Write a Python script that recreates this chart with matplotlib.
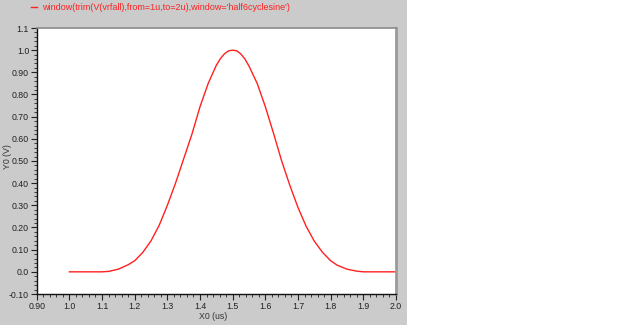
import matplotlib
matplotlib.use("Agg")
import matplotlib.pyplot as plt
from matplotlib.patches import Rectangle
from matplotlib.lines import Line2D
from matplotlib.ticker import MultipleLocator

# values
x_us = [1.00, 1.05, 1.10, 1.12, 1.15, 1.18, 1.20, 1.225, 1.25, 1.275, 1.30,
        1.325, 1.35, 1.375, 1.40, 1.425, 1.45, 1.4625, 1.475, 1.4875, 1.50,
        1.5125, 1.525, 1.5375, 1.55, 1.575, 1.60, 1.625, 1.65, 1.675, 1.70,
        1.725, 1.75, 1.775, 1.80, 1.82, 1.85, 1.88, 1.90, 1.95, 2.00]
y_v = [0.0, 0.0, 0.0, 0.002, 0.012, 0.032, 0.050, 0.088, 0.140, 0.210, 0.300,
       0.400, 0.510, 0.620, 0.745, 0.850, 0.932, 0.962, 0.984, 0.997, 1.0,
       0.997, 0.983, 0.960, 0.928, 0.850, 0.745, 0.625, 0.500, 0.390, 0.290,
       0.205, 0.138, 0.088, 0.050, 0.030, 0.012, 0.003, 0.0, 0.0, 0.0]

x_ticks = [0.9, 1.0, 1.1, 1.2, 1.3, 1.4, 1.5, 1.6, 1.7, 1.8, 1.9, 2.0]
x_labels = ["0.90", "1.0", "1.1", "1.2", "1.3", "1.4", "1.5", "1.6", "1.7", "1.8", "1.9", "2.0"]
y_ticks = [-0.1, 0.0, 0.1, 0.2, 0.3, 0.4, 0.5, 0.6, 0.7, 0.8, 0.9, 1.0, 1.1]
y_labels = ["-0.10", "0.0", "0.10", "0.20", "0.30", "0.40", "0.50", "0.60",
            "0.70", "0.80", "0.90", "1.0", "1.1"]
legend_text = "window(trim(V(vrfall),from=1u,to=2u),window='half6cyclesine')"

plt.rcParams["font.family"] = ["Liberation Sans", "DejaVu Sans"]

W, H = 619, 325
fig = plt.figure(figsize=(W / 100, H / 100), dpi=100, facecolor="white")
bg = Rectangle((0, 0), 407 / W, 1, transform=fig.transFigure,
               facecolor="#cbcbcb", edgecolor="none", zorder=-10)
fig.add_artist(bg)

ax = fig.add_axes([36.7 / W, (H - 294) / H, (396 - 36.7) / W, (294 - 28) / H])
ax.set_zorder(1)
ax.set_facecolor("white")
ax.plot(x_us, y_v, color="#ff2020", lw=1.0, solid_joinstyle="round")

ax.set_xlim(0.9, 2.0)
ax.set_ylim(-0.1, 1.1)
ax.set_xticks(x_ticks)
ax.set_xticklabels(x_labels)
ax.set_yticks(y_ticks)
ax.set_yticklabels(y_labels)
ax.xaxis.set_minor_locator(MultipleLocator(0.02))
ax.yaxis.set_minor_locator(MultipleLocator(0.02))
ax.tick_params(which="major", length=4, width=0.8, labelsize=6.3, colors="#222222", pad=1.5)
ax.tick_params(which="minor", length=2, width=0.6, colors="#222222")
ax.tick_params(top=False, right=False)

for side in ("left", "bottom"):
    ax.spines[side].set_color("#111111")
    ax.spines[side].set_linewidth(1.0)
ax.spines["top"].set_color("#8a8a8a")
ax.spines["top"].set_linewidth(1.2)
ax.spines["right"].set_color("#9a9a9a")
ax.spines["right"].set_linewidth(2.0)

ax.set_xlabel("X0 (us)", fontsize=6.3, color="#333333")
ax.set_ylabel("Y0 (V)", fontsize=6.3, color="#333333")
ax.xaxis.set_label_coords((213 - 36.7) / (396 - 36.7), -(312 - 294) / (294 - 28))
ax.yaxis.set_label_coords(-(36.7 - 12) / (396 - 36.7), (294 - 157) / (294 - 28))

# legend entry at the top
fig.add_artist(Line2D([31 / W, 37 / W], [(H - 7) / H] * 2, transform=fig.transFigure,
                      color="#ff2020", lw=1.0))
fig.text(42 / W, (H - 7) / H, legend_text, color="#ff2020", fontsize=6.5,
         ha="left", va="center")

fig.savefig("out.png", dpi=100, facecolor=fig.get_facecolor())
